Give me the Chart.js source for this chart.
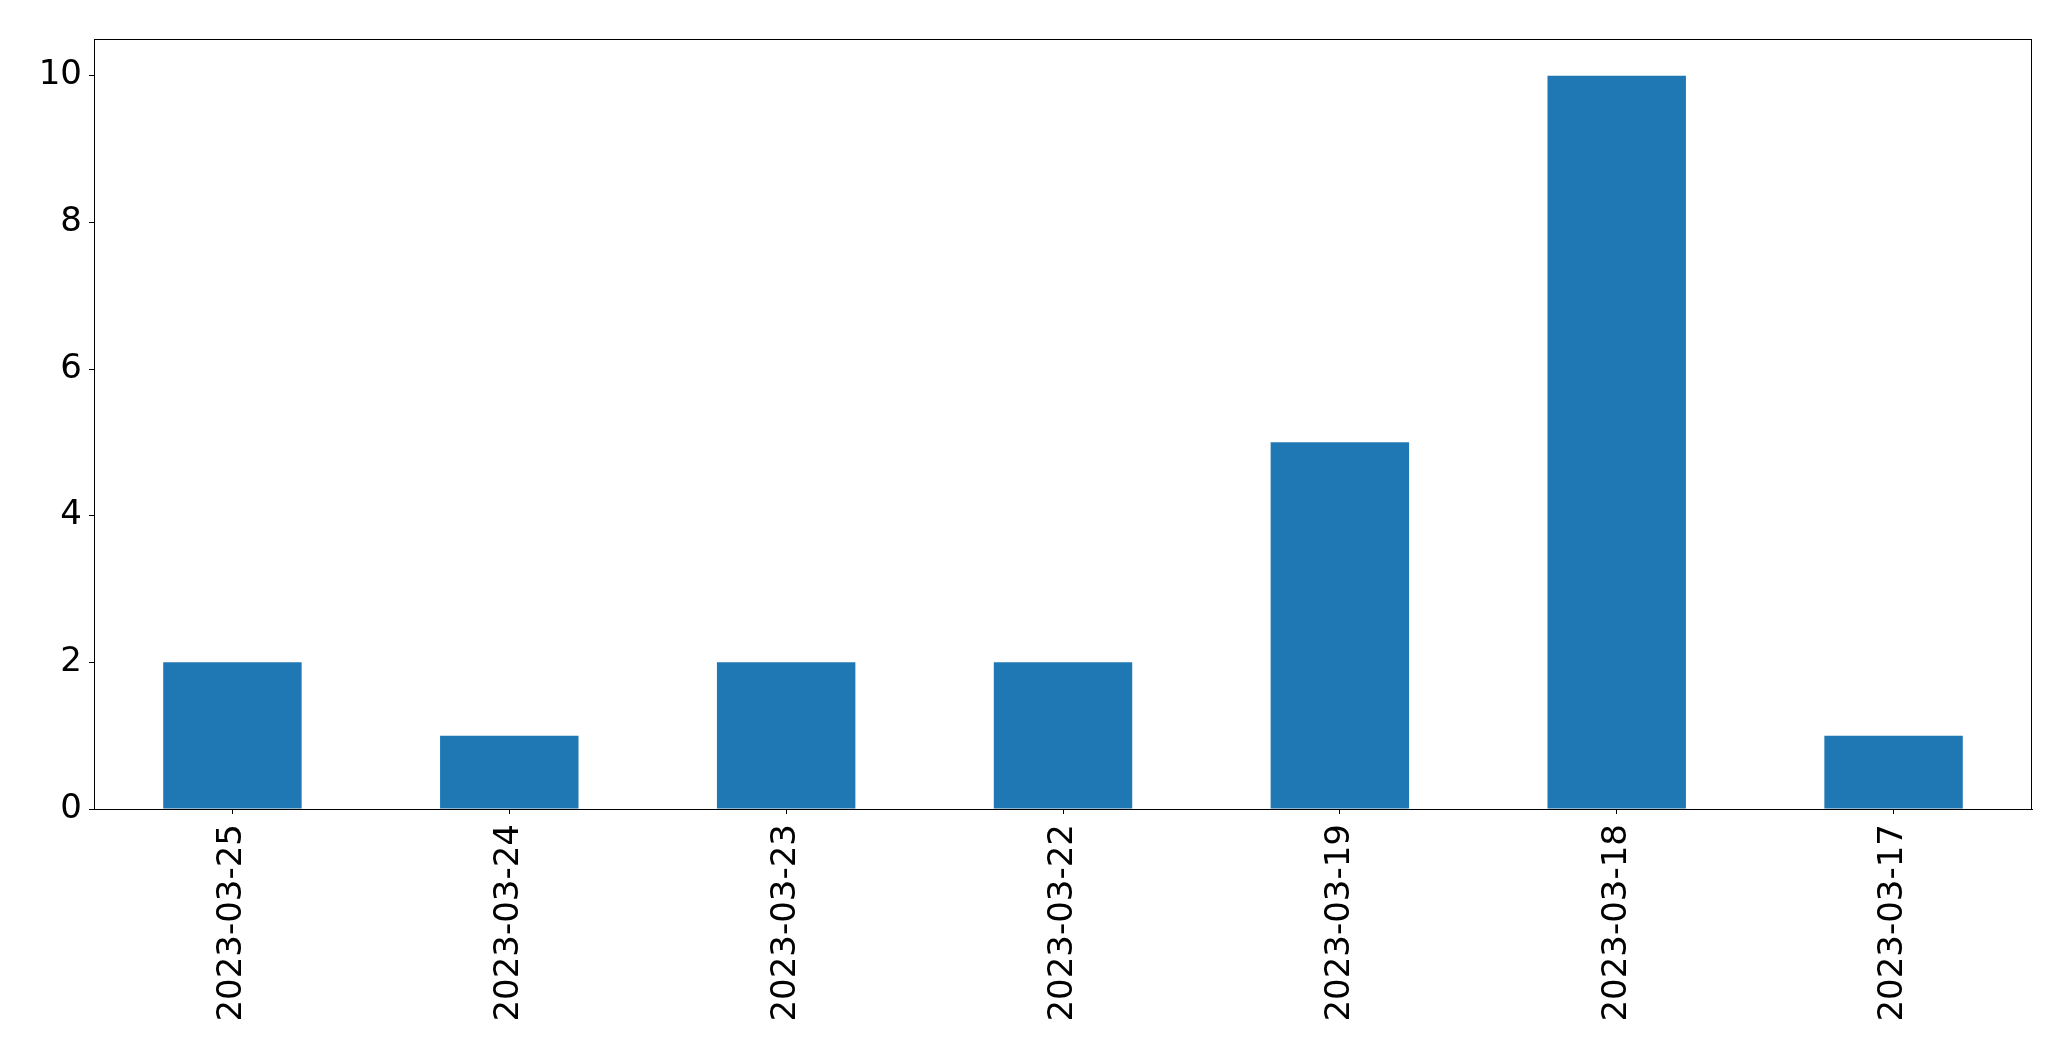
<!DOCTYPE html>
<html>
<head>
<meta charset="utf-8">
<title>Counts per day</title>
<script src="https://cdn.jsdelivr.net/npm/chart.js@4/dist/chart.umd.min.js"></script>
<style>
  html, body { margin: 0; padding: 0; background: #fff; }
  #chart { display: block; }
</style>
</head>
<body>
<canvas id="chart" width="2071" height="1061"></canvas>
<script>
  // Data
  const dates = ['2023-03-25', '2023-03-24', '2023-03-23', '2023-03-22', '2023-03-19', '2023-03-18', '2023-03-17'];
  const counts = [2, 1, 2, 2, 5, 10, 1];
  const yTicks = [0, 2, 4, 6, 8, 10];

  const barColor = '#1f77b4';
  const tickFont = { family: 'DejaVu Sans', size: 34 };

  // Top and right spines (Chart.js only draws the axis borders)
  const framePlugin = {
    id: 'frame',
    afterDraw(chart) {
      const { ctx, chartArea: a } = chart;
      ctx.save();
      ctx.strokeStyle = '#000';
      ctx.lineWidth = 1;
      ctx.strokeRect(Math.round(a.left) + 0.5, Math.round(a.top) + 0.5,
        Math.round(a.right - a.left) - 1, Math.round(a.bottom - a.top));
      ctx.restore();
    },
  };

  new Chart(document.getElementById('chart'), {
    type: 'bar',
    data: {
      labels: dates,
      datasets: [{
        data: counts,
        backgroundColor: barColor,
        borderWidth: 0,
        barPercentage: 0.5,
        categoryPercentage: 1.0,
      }],
    },
    options: {
      responsive: false,
      animation: false,
      layout: { padding: { top: 39, right: 39, left: 0, bottom: 0 } },
      plugins: {
        legend: { display: false },
        tooltip: { enabled: false },
      },
      scales: {
        x: {
          offset: true,
          grid: { drawOnChartArea: false, drawTicks: true, tickLength: 5, color: '#000', offset: false },
          border: { display: true, color: '#000', width: 1 },
          ticks: {
            color: '#000',
            font: tickFont,
            minRotation: 90,
            maxRotation: 90,
            padding: 10,
            autoSkip: false,
          },
          afterFit: (s) => { s.height = 252; },
        },
        y: {
          min: 0,
          max: 10.5,
          grid: { drawOnChartArea: false, drawTicks: true, tickLength: 5, color: '#000' },
          border: { display: true, color: '#000', width: 1 },
          ticks: { color: '#000', font: tickFont, padding: 7 },
          afterBuildTicks: (s) => { s.ticks = yTicks.map((v) => ({ value: v })); },
          afterFit: (s) => { s.width = 94; },
        },
      },
    },
    plugins: [framePlugin],
  });
</script>
</body>
</html>
